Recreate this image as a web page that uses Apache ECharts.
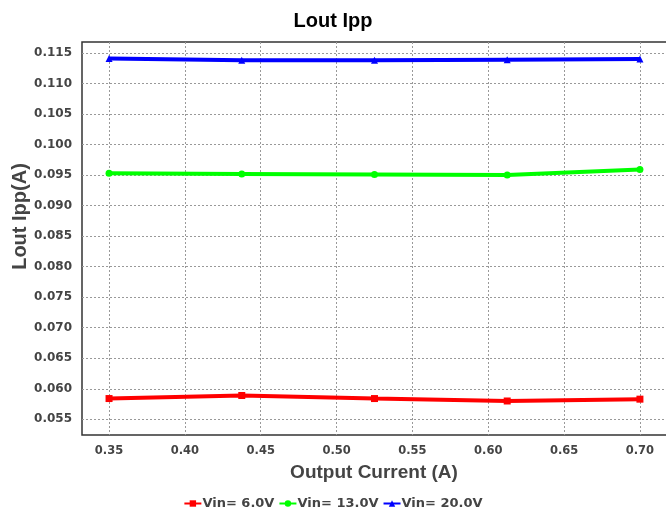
<!DOCTYPE html>
<html><head><meta charset="utf-8">
<script src="https://cdn.jsdelivr.net/npm/echarts@6/dist/echarts.min.js"></script>
<style>html,body{margin:0;padding:0;background:#fff}#c{width:666px;height:513px}</style>
</head><body><div id="c"></div>
<script>
const xValues = [0.35, 0.4375, 0.525, 0.6125, 0.70];
const vin6 = [0.0584, 0.0589, 0.0584, 0.0580, 0.0583];
const vin13 = [0.0953, 0.0952, 0.0951, 0.0950, 0.0959];
const vin20 = [0.1141, 0.1138, 0.1138, 0.1139, 0.1140];
const xTicks = [0.35, 0.40, 0.45, 0.50, 0.55, 0.60, 0.65, 0.70];
const yTicks = [0.055, 0.060, 0.065, 0.070, 0.075, 0.080, 0.085, 0.090, 0.095, 0.100, 0.105, 0.110, 0.115];
const seriesNames = ['Vin= 6.0V', 'Vin= 13.0V', 'Vin= 20.0V'];
const colors = ['#ff0000', '#00ff00', '#0000ff'];
const symbols = ['rect', 'circle', 'triangle'];

const chart = echarts.init(document.getElementById('c'), null, {renderer: 'canvas'});
const font = 'Liberation Sans, Arial, sans-serif';
const font2 = 'DejaVu Sans, sans-serif';
const mk = (vals) => xValues.map((x, i) => [x, vals[i]]);
const data = [vin6, vin13, vin20];
chart.setOption({
  animation: false,
  backgroundColor: '#fff',
  title: {text: 'Lout Ipp', left: 'center', top: 6,
    textStyle: {fontFamily: font, fontSize: 20, fontWeight: 'bold', color: '#000'}},
  grid: {left: 82, width: 594, top: 42, height: 393, outerBoundsMode: 'none', containLabel: false,
    show: true, borderColor: '#333', borderWidth: 1.5, backgroundColor: '#fff'},
  legend: {top: 492, left: 'center', itemGap: 4, itemWidth: 17, itemHeight: 8,
    textStyle: {fontFamily: font2, fontSize: 13, fontWeight: 'bold', color: '#444', padding: [0,0,0,-4]},
    data: seriesNames},
  xAxis: {type: 'value', min: 0.33217, max: 0.72378,
    name: 'Output Current (A)', nameLocation: 'middle', nameGap: 28, nameMoveOverlap: false,
    nameTextStyle: {fontFamily: font, fontSize: 19, fontWeight: 'bold', color: '#444', padding: [0, 0, 0, -10]},
    axisLine: {show: false},
    axisTick: {show: false, customValues: xTicks},
    axisLabel: {customValues: xTicks, fontFamily: font2, fontSize: 11.5, fontWeight: 'bold', color: '#444', margin: 10,
      formatter: v => v.toFixed(2)},
    splitLine: {show: true, lineStyle: {color: '#999', type: [2, 2], width: 1}}},
  yAxis: {type: 'value', min: 0.05243, max: 0.1168,
    name: 'Lout Ipp(A)', nameLocation: 'middle', nameGap: 52, nameMoveOverlap: false,
    nameTextStyle: {fontFamily: font, fontSize: 20, fontWeight: 'bold', color: '#444', padding: [0, 0, 0, 44]},
    axisLine: {show: false},
    axisTick: {show: false, customValues: yTicks},
    axisLabel: {customValues: yTicks, fontFamily: font2, fontSize: 12, fontWeight: 'bold', color: '#444', margin: 10,
      formatter: v => v.toFixed(3)},
    splitLine: {show: true, lineStyle: {color: '#999', type: [2, 2], width: 1}}},
  series: seriesNames.map((n, i) => ({
    name: n, type: 'line', data: mk(data[i]),
    symbol: symbols[i], symbolSize: 7, showAllSymbol: true,
    lineStyle: {color: colors[i], width: 4},
    itemStyle: {color: colors[i]}
  }))
});
</script></body></html>
